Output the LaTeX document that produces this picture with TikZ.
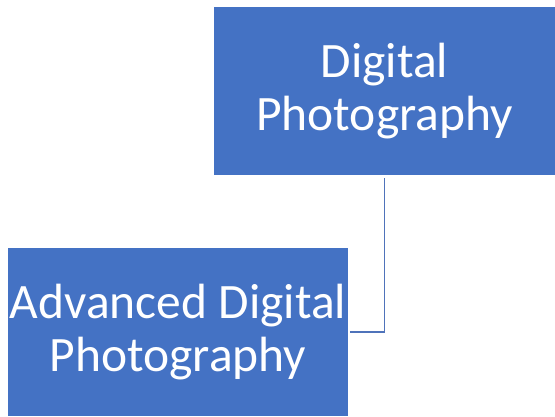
\documentclass[tikz,border=0pt]{standalone}
\usepackage{fontspec}
\setmainfont{Carlito}
\usepackage{xcolor}
\usetikzlibrary{arrows.meta}
\definecolor{boxblue}{HTML}{4472C4}
\definecolor{linkblue}{HTML}{4F73BA}

\begin{document}
\begin{tikzpicture}[x=1pt,y=1pt,
		box/.style={fill=boxblue,draw=none,text=white,align=center,inner sep=0pt,
			minimum height=168pt,font=\fontsize{49.5}{53}\selectfont},
		link/.style={draw=linkblue,line width=1.3pt}]
			\useasboundingbox (0,0) rectangle (555,416);

			\node[box,minimum width=341pt] (digital) at (384.5,325) {Digital\\Photography};
			\node[box,minimum width=340pt] (advanced) at (178,84) {Advanced Digital\\Photography};

			\draw[link,shorten <=3pt,shorten >=2pt] (digital.south) |- (advanced.east);
		\end{tikzpicture}
\end{document}
